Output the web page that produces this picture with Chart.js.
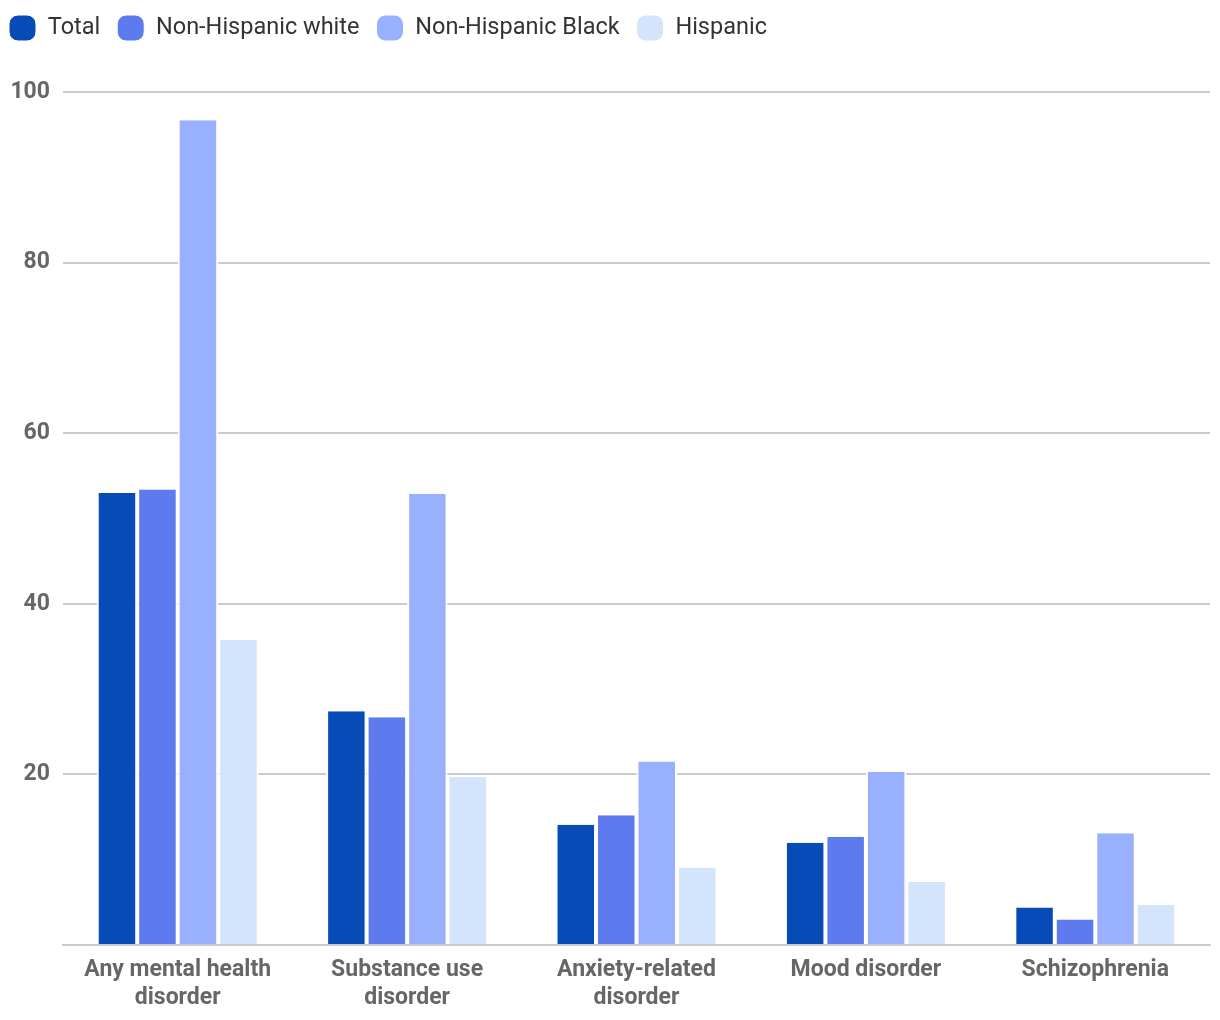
<!DOCTYPE html>
<html>
<head>
<meta charset="utf-8">
<script src="https://cdn.jsdelivr.net/npm/chart.js@4.4.1/dist/chart.umd.min.js"></script>
<style>
  html, body { margin: 0; padding: 0; background: #fff; }
</style>
</head>
<body>
<canvas id="mhChart" width="1220" height="1020"></canvas>
<script>
const categories = [
    ['Any mental health', 'disorder'],
    ['Substance use', 'disorder'],
    ['Anxiety-related', 'disorder'],
    'Mood disorder',
    'Schizophrenia'
];
const seriesNames = ['Total', 'Non-Hispanic white', 'Non-Hispanic Black', 'Hispanic'];
const totalVals = [53.0, 27.4, 14.1, 12.0, 4.4];
const whiteVals = [53.4, 26.7, 15.2, 12.7, 3.0];
const blackVals = [96.7, 52.9, 21.5, 20.3, 13.1];
const hispanicVals = [35.8, 19.7, 9.1, 7.4, 4.7];
const yTicks = [0, 20, 40, 60, 80, 100];

const colors = ['#074bb7', '#5d7bef', '#99b0fe', '#d3e4fd'];
const allVals = [totalVals, whiteVals, blackVals, hispanicVals];

// legend needs a bit more room below it
const legendSpace = {
    id: 'legendSpace',
    beforeInit(chart) {
        const fit = chart.legend.fit;
        chart.legend.fit = function () {
            fit.bind(chart.legend)();
            this.height += 41;
        };
    }
};

new Chart(document.getElementById('mhChart'), {
    type: 'bar',
    data: {
        labels: categories,
        datasets: seriesNames.map((name, i) => ({
            label: name,
            data: allVals[i],
            backgroundColor: colors[i],
            borderColor: '#ffffff',
            borderWidth: { left: 2, right: 2, top: 0, bottom: 0 },
            categoryPercentage: 0.706,
            barPercentage: 1.0
        }))
    },
    options: {
        responsive: false,
        animation: false,
        layout: {
            padding: { left: -8, right: 10, top: -2, bottom: -3 }
        },
        plugins: {
            legend: {
                position: 'top',
                align: 'start',
                labels: {
                    boxWidth: 27,
                    boxHeight: 26,
                    useBorderRadius: true,
                    borderRadius: 9,
                    padding: 17,
                    color: '#333333',
                    font: { family: 'Roboto', size: 23.5 }
                }
            },
            tooltip: { enabled: false }
        },
        scales: {
            x: {
                grid: { display: false, drawTicks: false },
                border: { display: true, color: '#cccccc', width: 2 },
                ticks: {
                    color: '#666666',
                    padding: 11,
                    maxRotation: 0,
                    autoSkip: false,
                    font: { family: 'Roboto', size: 23, weight: 'bold', lineHeight: '28px' }
                }
            },
            y: {
                min: 0,
                max: 100,
                afterFit(scale) {
                    scale.width = 71;
                },
                afterBuildTicks(scale) {
                    scale.ticks = yTicks.map(v => ({ value: v }));
                },
                grid: { color: '#cccccc', lineWidth: 2, drawTicks: false },
                border: { display: false },
                ticks: {
                    color: '#666666',
                    padding: 13,
                    font: { family: 'Roboto', size: 23, weight: 'bold' },
                    callback: (v) => v === 0 ? '' : v
                }
            }
        }
    },
    plugins: [legendSpace]
});
</script>
</body>
</html>
